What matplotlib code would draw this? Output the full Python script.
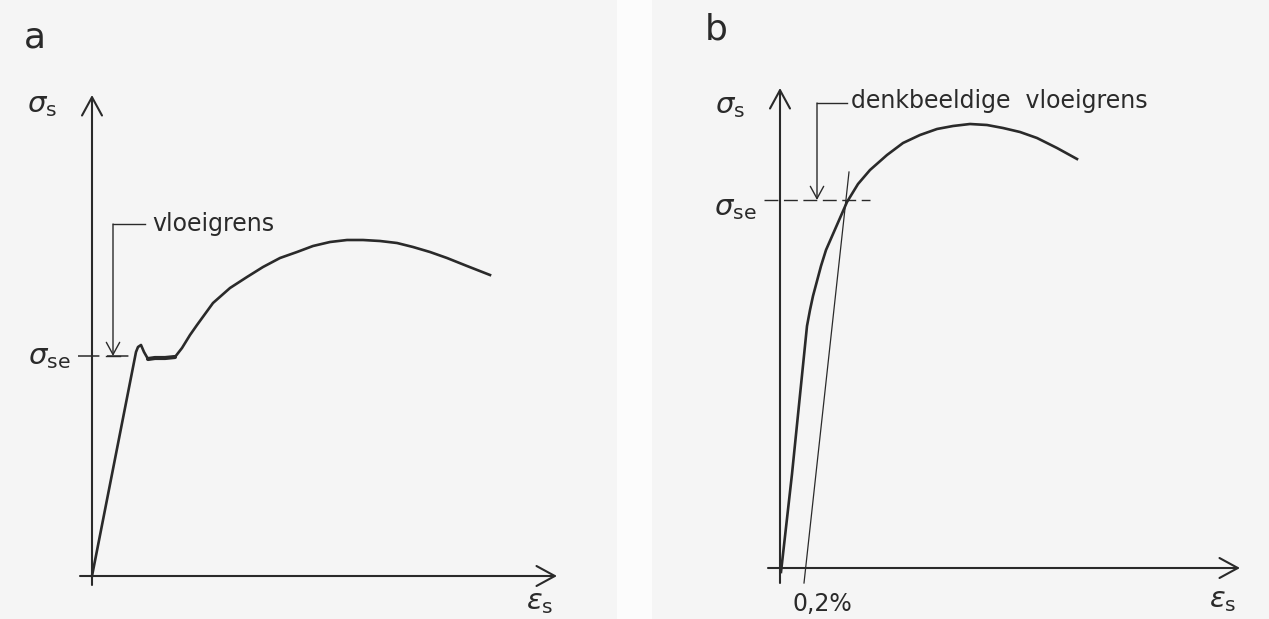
# Two schematic stress-strain diagrams (a: mild steel with yield plateau, b: 0,2% proof stress)
import matplotlib.pyplot as plt
from matplotlib.patches import FancyArrowPatch, Rectangle

# ---- data (drawing units, origin at the axis crossing) ----
# panel a: steel with a clear yield point
eps_a = [0, 44, 46, 49, 52, 56, 63, 73, 83, 90, 98, 105, 121, 138, 155, 171,
         188, 205, 221, 238, 255, 271, 288, 305, 321, 338, 355, 375, 398]
sig_a = [0, 224, 229, 231, 224, 217, 218, 218, 219, 228, 241, 251, 273, 288,
         299, 309, 318, 324, 330, 334, 336, 336, 335, 333, 329, 324, 318, 310, 301]
sig_se_a = 220

# panel b: steel without a yield plateau
eps_b = [1, 12, 20, 27, 30, 33, 37, 41, 46, 53, 60, 67, 78, 90, 107, 123, 140,
         157, 173, 190, 207, 223, 240, 257, 277, 297]
sig_b = [-4, 94, 173, 242, 258, 272, 287, 302, 318, 334, 350, 366, 384, 398,
         413, 425, 433, 439, 442, 444, 443, 440, 436, 430, 420, 409]
sig_se_b = 368
offset_eps = [24, 69]      # 0,2% parallel line
offset_sig = [-15, 396]

INK = "#2a2a2a"
plt.rcParams["font.family"] = ["DejaVu Sans"]
plt.rcParams["mathtext.fontset"] = "dejavusans"

fig = plt.figure(figsize=(12.69, 6.19), dpi=100)
fig.patch.set_facecolor("#f5f5f5")
fig.patches.append(Rectangle((617 / 1269, 0), 35 / 1269, 1, transform=fig.transFigure,
                             facecolor="#fcfcfc", edgecolor="none", zorder=0))

# axes in pixel-like units so both sketches keep the drawn proportions
ax_a = fig.add_axes([0, 0, 640 / 1269, 1])
ax_a.set_xlim(-92, 640 - 92)
ax_a.set_ylim(576 - 619, 576)
ax_b = fig.add_axes([640 / 1269, 0, 629 / 1269, 1])
ax_b.set_xlim(-140, 629 - 140)
ax_b.set_ylim(568 - 619, 568)
for ax in (ax_a, ax_b):
    ax.set_axis_off()
    ax.patch.set_alpha(0)


def arrow(ax, p0, p1, lw=1.5, scale=24):
    ax.add_patch(FancyArrowPatch(p0, p1, arrowstyle="->,head_length=0.55,head_width=0.3",
                                 mutation_scale=scale, lw=lw, color=INK,
                                 shrinkA=0, shrinkB=0))


# ---------------- panel a ----------------
arrow(ax_a, (0, -9), (0, 481))
arrow(ax_a, (-12, 0), (465, 0))
ax_a.plot(eps_a, sig_a, color=INK, lw=1.9, solid_joinstyle="round")
ax_a.plot(eps_a[5:9], sig_a[5:9], color=INK, lw=3.0, solid_capstyle="round")
ax_a.plot([-14, 44], [sig_se_a, sig_se_a], color=INK, lw=1.1, dashes=(14, 5))
ax_a.plot([21, 53], [352, 352], color=INK, lw=1.0)
arrow(ax_a, (21, 352), (21, sig_se_a), lw=1.0, scale=16)
ax_a.plot([14, 28], [sig_se_a, sig_se_a], color=INK, lw=1.0)
ax_a.text(60, 352, "vloeigrens", fontsize=17, color=INK, va="center", ha="left")
ax_a.text(-50, 471, r"$\sigma_\mathrm{s}$", fontsize=21, color=INK, ha="center", va="center")
ax_a.text(-43, 219, r"$\sigma_\mathrm{se}$", fontsize=21, color=INK, ha="center", va="center")
ax_a.text(448, -26, r"$\varepsilon_\mathrm{s}$", fontsize=21, color=INK, ha="center", va="center")
ax_a.text(-57, 538, "a", fontsize=26, color=INK, ha="center", va="center")

# ---------------- panel b ----------------
arrow(ax_b, (0, -15), (0, 480))
arrow(ax_b, (-12, 0), (460, 0))
ax_b.plot(eps_b, sig_b, color=INK, lw=1.9, solid_joinstyle="round")
ax_b.plot(offset_eps, offset_sig, color=INK, lw=0.9)
ax_b.plot([-16, 90], [sig_se_b, sig_se_b], color=INK, lw=1.0, dashes=(10, 4))
ax_b.plot([37, 67], [465, 465], color=INK, lw=1.0)
arrow(ax_b, (37, 465), (37, sig_se_b), lw=1.0, scale=16)
ax_b.text(71, 467, "denkbeeldige  vloeigrens", fontsize=17, color=INK, va="center", ha="left")
ax_b.text(-50, 462, r"$\sigma_\mathrm{s}$", fontsize=21, color=INK, ha="center", va="center")
ax_b.text(-45, 360, r"$\sigma_\mathrm{se}$", fontsize=21, color=INK, ha="center", va="center")
ax_b.text(443, -32, r"$\varepsilon_\mathrm{s}$", fontsize=21, color=INK, ha="center", va="center")
ax_b.text(42, -36, "0,2%", fontsize=17, color=INK, ha="center", va="center")
ax_b.text(-64, 539, "b", fontsize=26, color=INK, ha="center", va="center")

fig.savefig("out.png", dpi=100, facecolor=fig.get_facecolor())
